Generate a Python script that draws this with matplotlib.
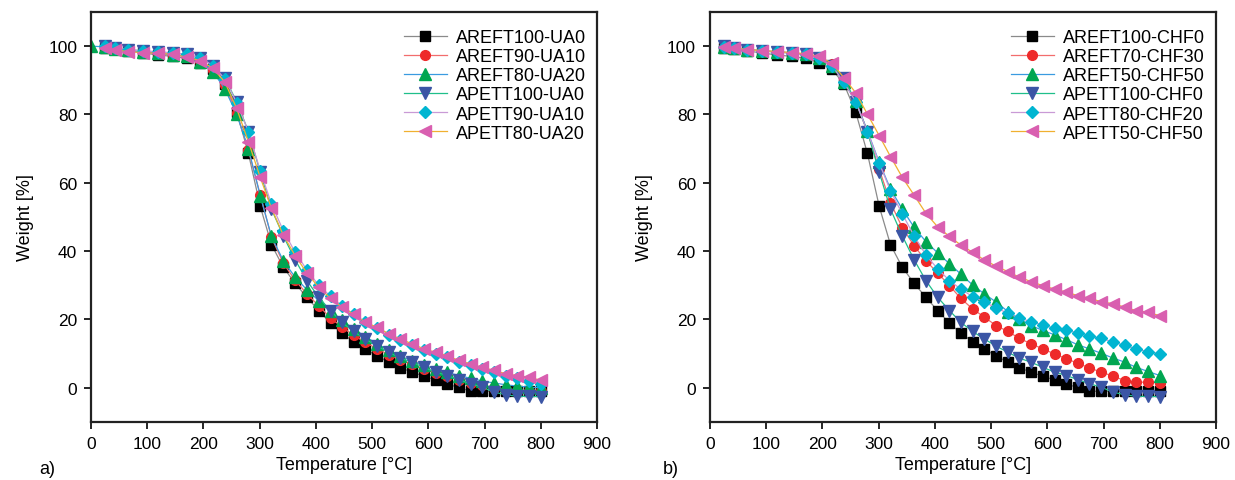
import matplotlib
matplotlib.use("Agg")
import matplotlib.pyplot as plt

plt.rcParams['font.family'] = ['Liberation Sans', 'DejaVu Sans']

# temperatures of the sampled points [°C]
temps = [25, 43, 66, 93, 120, 146, 170, 194, 217, 238, 259, 280, 301, 321, 342, 363,
         384, 405, 426, 446, 467, 488, 509, 530, 550, 571, 592, 613, 634, 654, 675,
         696, 717, 738, 758, 779, 800]
temps_areft80 = [0] + temps

# shared reference samples (same in both panels)
areft100 = [99.6, 99.1, 98.6, 98.0, 97.4, 97.0, 96.4, 95.2, 93.2, 89.0, 80.8, 68.6, 53.1,
            41.9, 35.3, 30.6, 26.5, 22.6, 18.9, 16.0, 13.5, 11.4, 9.3, 7.5, 5.9, 4.6, 3.4,
            2.3, 1.1, 0.1, -1.0, -1.0, -1.0, -1.0, -1.0, -1.0, -1.0]
apett100 = [99.9, 99.5, 99.0, 98.6, 98.3, 98.0, 97.6, 96.6, 94.3, 90.6, 83.8, 75.0, 63.1,
            52.3, 44.5, 37.5, 31.4, 26.5, 22.6, 19.2, 16.5, 14.3, 12.2, 10.4, 8.7, 7.5, 6.0,
            4.6, 3.6, 2.4, 1.2, 0.2, -1.3, -2.0, -2.5, -2.5, -2.6]

# panel a) UA series
areft90_ua10 = [99.8, 99.3, 98.8, 98.3, 97.9, 97.5, 97.0, 95.8, 93.0, 88.5, 80.5, 69.5, 56.5,
                44.0, 36.5, 31.5, 27.5, 24.0, 20.5, 17.8, 15.4, 13.3, 11.4, 9.7, 8.2, 6.9, 5.6,
                4.4, 3.4, 2.4, 1.5, 0.7, 0.0, -0.5, -0.8, -1.0, -1.0]
areft80_ua20 = [100.0, 99.8, 99.3, 98.8, 98.3, 97.9, 97.5, 97.0, 95.5, 92.5, 87.5, 80.1, 70.0,
                56.2, 44.3, 37.2, 32.4, 28.7, 25.5, 22.5, 19.8, 17.3, 15.0, 12.9, 11.0, 9.3,
                7.9, 6.6, 5.5, 4.5, 3.6, 2.8, 2.0, 1.4, 0.9, 0.5, 0.2, 0.0]
apett90_ua10 = [99.9, 99.5, 99.0, 98.6, 98.3, 98.0, 97.6, 96.6, 94.3, 90.4, 83.5, 75.0, 63.5,
                53.8, 46.0, 39.7, 34.5, 30.0, 26.8, 24.0, 21.6, 19.2, 17.5, 15.6, 14.0, 12.6,
                11.1, 10.0, 8.9, 7.6, 6.6, 5.5, 4.5, 3.6, 2.8, 2.0, 1.2]
apett80_ua20 = [99.6, 98.9, 98.4, 98.1, 97.9, 97.6, 96.8, 95.8, 93.5, 89.5, 81.8, 72.0, 61.6,
                52.5, 44.7, 38.7, 33.6, 29.4, 26.2, 23.7, 21.6, 19.2, 17.7, 15.8, 14.3, 12.9,
                11.4, 10.4, 9.4, 8.0, 7.0, 6.0, 5.1, 4.1, 3.6, 3.1, 2.2]

# panel b) CHF series
areft70_chf30 = [99.8, 99.4, 99.0, 98.6, 98.3, 98.0, 97.7, 96.8, 94.7, 90.0, 84.0, 75.0, 64.0,
                 54.2, 46.9, 41.6, 37.2, 33.6, 29.9, 26.2, 23.1, 20.7, 18.2, 16.5, 14.5, 12.9,
                 11.4, 9.9, 8.5, 7.2, 5.8, 4.6, 3.4, 2.1, 1.7, 1.6, 1.5]
areft50_chf50 = [99.8, 99.4, 99.0, 98.6, 98.3, 98.0, 97.6, 96.6, 94.3, 89.5, 84.0, 75.2, 66.0,
                 58.2, 52.3, 47.0, 42.8, 39.5, 36.3, 33.3, 30.1, 27.5, 25.1, 22.3, 20.2, 18.2,
                 16.8, 15.5, 14.1, 12.6, 11.4, 10.1, 8.7, 7.5, 6.0, 4.8, 3.6]
apett80_chf20 = [99.8, 99.4, 99.0, 98.6, 98.3, 98.0, 97.6, 96.6, 94.3, 89.4, 83.8, 75.0, 65.8,
                 57.7, 50.9, 44.5, 38.9, 34.8, 31.4, 28.9, 26.7, 25.1, 23.4, 21.8, 20.4, 19.4,
                 18.4, 17.4, 16.8, 16.1, 15.1, 14.5, 13.4, 12.4, 11.4, 10.6, 10.0]
apett50_chf50 = [99.8, 99.4, 99.0, 98.7, 98.4, 98.1, 97.8, 97.0, 95.0, 90.8, 86.4, 80.1, 73.8,
                 67.7, 61.6, 56.4, 51.1, 47.1, 44.3, 41.8, 39.7, 37.4, 35.6, 34.0, 32.4, 31.1,
                 29.9, 28.9, 28.0, 27.0, 26.2, 25.2, 24.6, 23.6, 22.6, 22.1, 21.1]

labels_a = ['AREFT100-UA0', 'AREFT90-UA10', 'AREFT80-UA20',
            'APETT100-UA0', 'APETT90-UA10', 'APETT80-UA20']
labels_b = ['AREFT100-CHF0', 'AREFT70-CHF30', 'AREFT50-CHF50',
            'APETT100-CHF0', 'APETT80-CHF20', 'APETT50-CHF50']

# line colour, marker colour, marker, size
styles = [
    ('#8a8a8a', '#000000', 's', 6.5),
    ('#f26d6d', '#ee2a2a', 'o', 7),
    ('#3a9be0', '#00a651', '^', 8),
    ('#1fbf8a', '#3b55a5', 'v', 8),
    ('#c99ad6', '#00b5d1', 'D', 6.5),
    ('#f0b030', '#d95fb0', '<', 8),
]

series_a = [(temps, areft100), (temps, areft90_ua10), (temps_areft80, areft80_ua20),
            (temps, apett100), (temps, apett90_ua10), (temps, apett80_ua20)]
series_b = [(temps, areft100), (temps, areft70_chf30), (temps, areft50_chf50),
            (temps, apett100), (temps, apett80_chf20), (temps, apett50_chf50)]

fig = plt.figure(figsize=(12.35, 4.81), dpi=100)
ax_a = fig.add_axes([0.0737, 0.1206, 0.4097, 0.8524])
ax_b = fig.add_axes([0.5749, 0.1206, 0.4097, 0.8524])

for ax, series, labels in [(ax_a, series_a, labels_a), (ax_b, series_b, labels_b)]:
    for (x, y), lab, (lc, mc, mk, ms) in zip(series, labels, styles):
        ax.plot(x, y, color=lc, lw=0.9, marker=mk, ms=ms, mfc=mc, mec=mc,
                label=lab)
    ax.set_xlim(0, 900)
    ax.set_ylim(-10, 110)
    ax.set_xticks(range(0, 901, 100))
    ax.set_yticks(range(0, 101, 20))
    ax.tick_params(direction='out', length=5, width=1.2, labelsize=12.5, pad=5,
                   top=False, right=False)
    for sp in ax.spines.values():
        sp.set_linewidth(1.6)
        sp.set_color('#222222')
    ax.set_xlabel('Temperature [°C]', fontsize=13, labelpad=4)
    ax.set_ylabel('Weight [%]', fontsize=13, labelpad=10)
    ax.legend(loc='upper right', bbox_to_anchor=(1.0, 0.985), frameon=False,
              fontsize=13, handlelength=2.4, labelspacing=0.12,
              borderaxespad=0.2, handletextpad=0.5)

fig.text(0.032, 0.014, 'a)', fontsize=13)
fig.text(0.537, 0.014, 'b)', fontsize=13)

fig.savefig('out.png', dpi=100)
